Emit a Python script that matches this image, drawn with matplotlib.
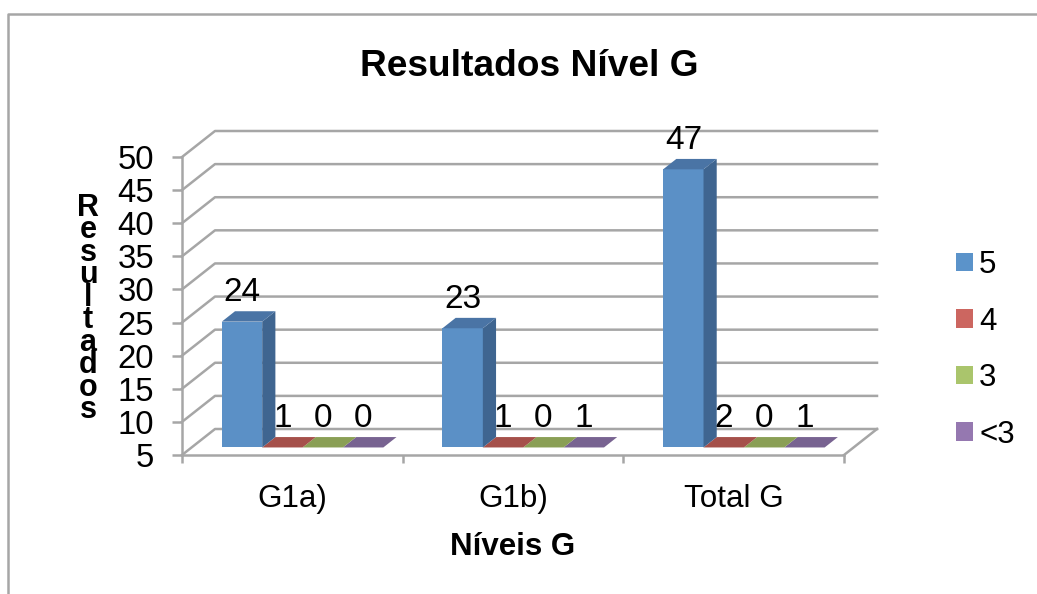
import numpy as np
import matplotlib
matplotlib.use('Agg')
import matplotlib.pyplot as plt
from matplotlib.lines import Line2D
from matplotlib.patches import Patch, Polygon

categories = ['G1a)', 'G1b)', 'Total G']
series_names = ['5', '4', '3', '<3']
values_5 = [24, 23, 47]
values_4 = [1, 1, 2]
values_3 = [0, 0, 0]
values_lt3 = [0, 1, 1]
y_ticks = [5, 10, 15, 20, 25, 30, 35, 40, 45, 50]

# front, side, top, legend
colors = [
    ('#5B90C6', '#3F6590', '#4A74A5', '#5B93CA'),
    ('#B85750', '#8C423D', '#A5504A', '#CC6660'),
    ('#96AF5E', '#718447', '#8A9F55', '#AAC56C'),
    ('#826AA0', '#625079', '#786391', '#9578B0'),
]
GRAY = '#A6A6A6'

W, H = 1037, 594
plt.rcParams['font.family'] = ['Liberation Sans', 'DejaVu Sans']

fig = plt.figure(figsize=(W / 100, H / 100), dpi=100)
ax = fig.add_axes([182 / W, (H - 455) / H, 662 / W, 298 / H])
ax.set_xlim(0, 3)
ax.set_ylim(5, 50)

# floor / wall offset in data units
depth_x = 33 / (662 / 3)
depth_y = 26 / (298 / 45)
bar_w = 0.183
gap = 0.137
front = 0.29
back = 0.69


def draw_bar(x, value, cols):
    """Fake 3D column, same look as the Excel one"""
    v = max(value, 5)
    x0 = x + front * depth_x
    x1 = x0 + bar_w
    y0 = 5 + front * depth_y
    y1 = v + front * depth_y
    dx = (back - front) * depth_x
    dy = (back - front) * depth_y
    face, side, top, _ = cols
    kw = dict(clip_on=False, zorder=3, lw=0)
    if v > 5:
        ax.add_patch(Polygon([(x0, y0), (x1, y0), (x1, y1), (x0, y1)], fc=face, **kw))
        ax.add_patch(Polygon([(x1, y0), (x1 + dx, y0 + dy), (x1 + dx, y1 + dy), (x1, y1)], fc=side, **kw))
    ax.add_patch(Polygon([(x0, y1), (x1, y1), (x1 + dx, y1 + dy), (x0 + dx, y1 + dy)], fc=top, **kw))
    ax.annotate(str(value), (x0 + bar_w / 2, y1), xytext=(0, 29 * 0.72),
                textcoords='offset points', ha='center', va='center',
                fontsize=24, color='black', zorder=5, annotation_clip=False)


# walls and floor
for t in y_ticks:
    ax.plot([0, depth_x, 3 + depth_x], [t, t + depth_y, t + depth_y],
            color=GRAY, lw=1.8, clip_on=False, zorder=1)
ax.plot([3, 3 + depth_x], [5, 5 + depth_y], color=GRAY, lw=1.8, clip_on=False, zorder=1)

all_values = [values_5, values_4, values_3, values_lt3]
for i in range(len(categories)):
    for j in reversed(range(4)):
        draw_bar(i + gap + j * bar_w, all_values[j][i], colors[j])

for side in ['top', 'right']:
    ax.spines[side].set_visible(False)
for side in ['left', 'bottom']:
    ax.spines[side].set_color(GRAY)
    ax.spines[side].set_linewidth(1.8)

ax.set_yticks(y_ticks)
ax.set_xticks([0, 1, 2, 3])
ax.set_xticklabels([])
ax.set_xticks([0.5, 1.5, 2.5], labels=categories, minor=True)
ax.tick_params(axis='y', length=7, width=1.8, color=GRAY, labelsize=23.7, pad=13)
ax.tick_params(axis='x', which='major', length=5.5, width=1.8, color=GRAY)
ax.tick_params(axis='x', which='minor', length=0, labelsize=22.6, pad=20.7)

fig.text(529 / W, 1 - 67 / H, 'Resultados Nível G', fontsize=26.7, fontweight='bold',
         ha='center', va='center')
fig.text(513 / W, 1 - 547 / H, 'Níveis G', fontsize=22.5, fontweight='bold',
         ha='center', va='center')
fig.text(88 / W, 1 - 309 / H, '\n'.join('Resultados'), fontsize=22, fontweight='bold',
         ha='center', va='center', linespacing=0.675, multialignment='center')

handles = [Patch(fc=c[3], ec='none') for c in colors]
fig.legend(handles, series_names, loc='upper left', bbox_to_anchor=(956 / W, 1 - 250 / H),
           frameon=False, fontsize=22.5, handlelength=0.54, handleheight=0.54,
           handletextpad=0.2, labelspacing=0.85, borderpad=0, borderaxespad=0)

# chart frame
fig.add_artist(Line2D([8 / W, 8 / W, 1], [0, 1 - 14 / H, 1 - 14 / H], color=GRAY, lw=1.8))

fig.savefig('out.png', dpi=100)
